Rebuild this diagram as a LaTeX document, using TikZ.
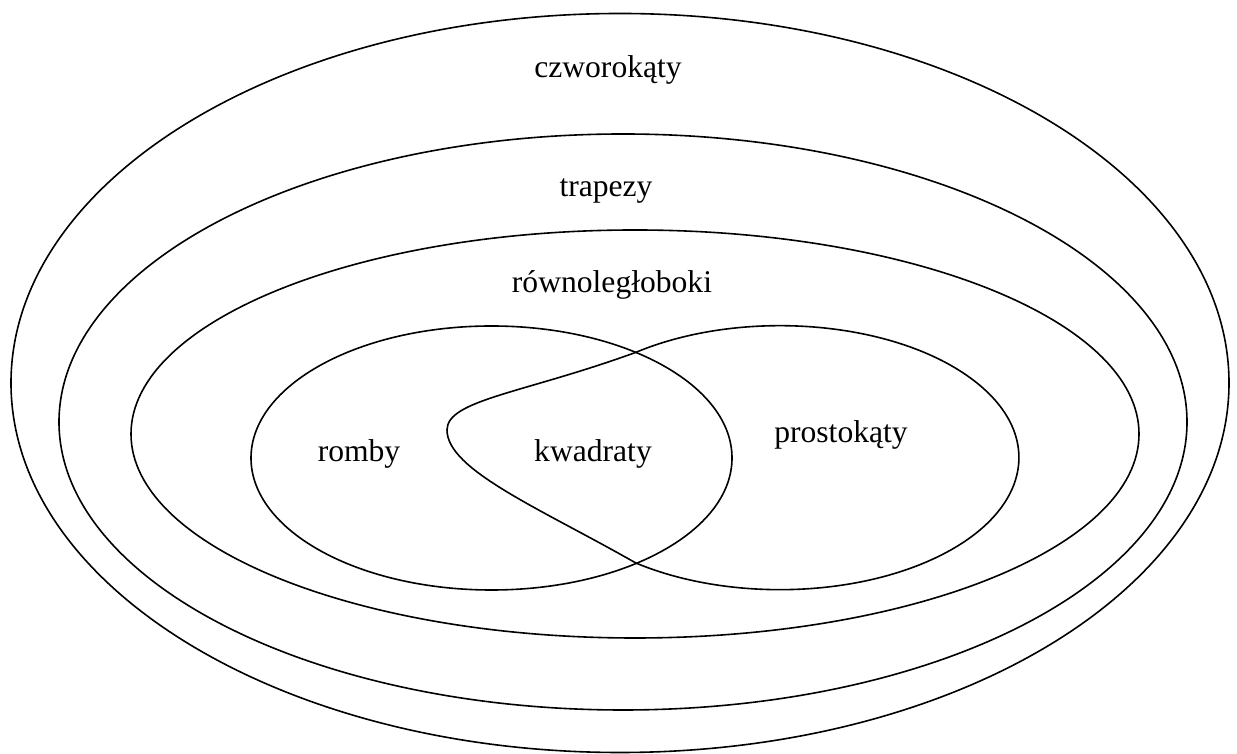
\documentclass[tikz,border=0pt]{standalone}
\usepackage{fontspec}
\setmainfont{Liberation Serif}
\tikzset{
  setline/.style={draw=black, line width=1.6pt},
  setlabel/.style={anchor=base, inner sep=0pt, font=\fontsize{31.6}{36}\selectfont}
}
\begin{document}
\begin{tikzpicture}[x=1pt,y=1pt]
\useasboundingbox (0,0) rectangle (1237,754);
% nested ellipses
\draw[setline] (620,371) ellipse[x radius=609, y radius=369.5];
\draw[setline] (623,332) ellipse[x radius=564, y radius=288];
\draw[setline] (635,320) ellipse[x radius=504, y radius=204];
% romby
\draw[setline] (491.5,296) ellipse[x radius=240.5, y radius=132];
% prostokaty (deformed set reaching round kwadraty)
\coordinate (p1) at (635.75,401.6);
\coordinate (pl) at (447,324);
\draw[setline] (p1) arc[start angle=127.1, end angle=-127.1, x radius=239, y radius=132]
  .. controls (540.5,245.4) and (447,284) .. (pl)
  .. controls (447,354) and (523,360.6) .. (p1) -- cycle;
% labels
\node[setlabel] (czw) at (608,676) {czworokąty};
\node[setlabel] (trap) at (606,557) {trapezy};
\node[setlabel] (rown) at (612,461) {równoległoboki};
\node[setlabel] (romb) at (359,292) {romby};
\node[setlabel] (kwad) at (593,292) {kwadraty};
\node[setlabel] (prost) at (841,311) {prostokąty};
\end{tikzpicture}
\end{document}
